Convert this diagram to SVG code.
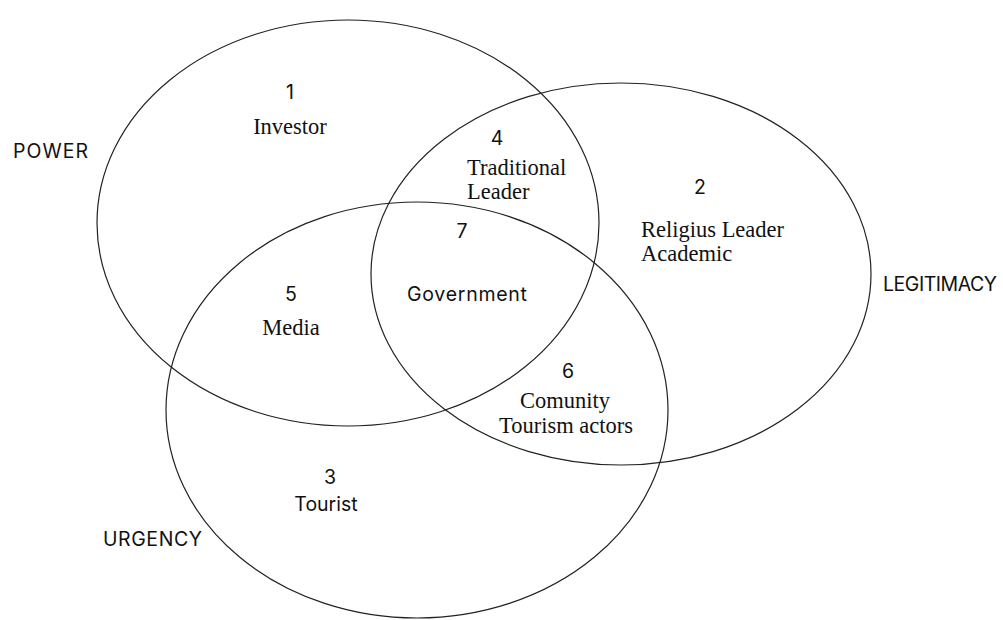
<svg xmlns="http://www.w3.org/2000/svg" width="1003" height="620" viewBox="0 0 1003 620">
  <style>
    .set { fill: none; stroke: #222; stroke-width: 1.2; }
    .sans { font-family: Inter, "Liberation Sans", Arial, sans-serif; font-size: 19.5px; fill: #111; }
    .serif { font-family: "Liberation Serif", "Times New Roman", serif; font-size: 22.5px; fill: #111; }
  </style>
  <rect width="1003" height="620" fill="#fff"/>

  <!-- the three attribute sets -->
  <g id="power">
    <ellipse class="set" cx="348" cy="223" rx="251" ry="203"/>
    <text class="sans" x="13" y="158" textLength="75">POWER</text>
  </g>
  <g id="legitimacy">
    <ellipse class="set" cx="621" cy="274" rx="250" ry="191"/>
    <text class="sans" x="883" y="291" textLength="114">LEGITIMACY</text>
  </g>
  <g id="urgency">
    <ellipse class="set" cx="417" cy="410" rx="251" ry="208"/>
    <text class="sans" x="103" y="546" textLength="99">URGENCY</text>
  </g>

  <!-- stakeholder groups per region -->
  <g id="region-1">
    <text class="sans" x="290" y="99" text-anchor="middle">1</text>
    <text class="serif" x="290" y="134" text-anchor="middle">Investor</text>
  </g>
  <g id="region-2">
    <text class="sans" x="700" y="194" text-anchor="middle">2</text>
    <text class="serif" x="641" y="237">Religius Leader</text>
    <text class="serif" x="641" y="261">Academic</text>
  </g>
  <g id="region-3">
    <text class="sans" x="330" y="484" text-anchor="middle">3</text>
    <text class="sans" x="326" y="511" text-anchor="middle">Tourist</text>
  </g>
  <g id="region-4">
    <text class="sans" x="497" y="145" text-anchor="middle">4</text>
    <text class="serif" x="467" y="175">Traditional</text>
    <text class="serif" x="467" y="199">Leader</text>
  </g>
  <g id="region-5">
    <text class="sans" x="291" y="301" text-anchor="middle">5</text>
    <text class="serif" x="291" y="335" text-anchor="middle">Media</text>
  </g>
  <g id="region-6">
    <text class="sans" x="568" y="378" text-anchor="middle">6</text>
    <text class="serif" x="565" y="408" text-anchor="middle">Comunity</text>
    <text class="serif" x="566" y="433" text-anchor="middle">Tourism actors</text>
  </g>
  <g id="region-7">
    <text class="sans" x="462" y="238" text-anchor="middle">7</text>
    <text class="sans" x="407" y="301" textLength="120">Government</text>
  </g>
</svg>
